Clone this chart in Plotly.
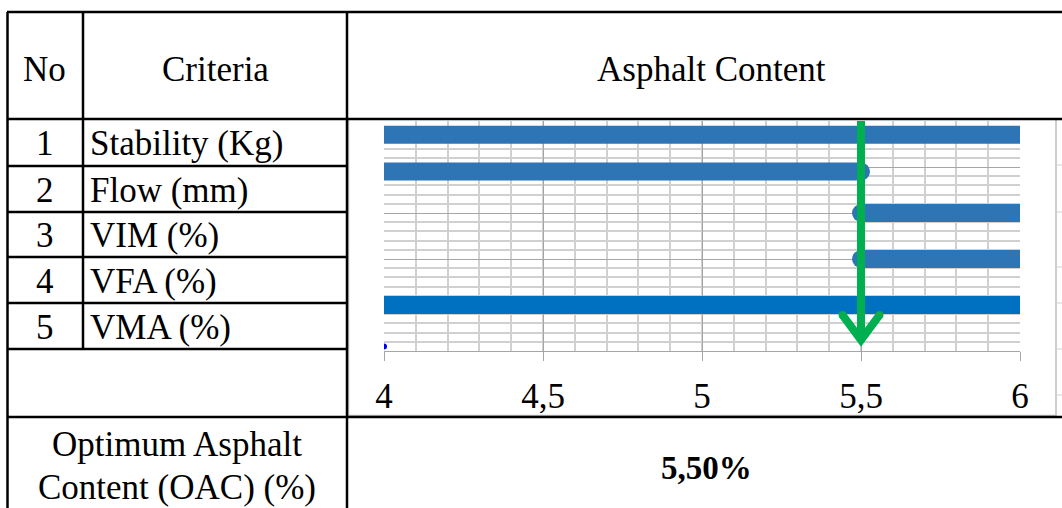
import plotly.graph_objects as go

# ---- data -------------------------------------------------------------
row_no = ["1", "2", "3", "4", "5"]
criteria = ["Stability (Kg)", "Flow (mm)", "VIM (%)", "VFA (%)", "VMA (%)"]
bar_level = [4.7, 3.9, 3.0, 2.0, 1.0]        # vertical position of each range bar
bar_start = [4.0, 4.0, 5.5, 5.5, 4.0]        # asphalt content where the range starts
bar_end = [6.0, 5.5, 6.0, 6.0, 6.0]          # asphalt content where the range ends
bar_color = ["#2E75B6", "#2E75B6", "#2E75B6", "#2E75B6", "#0070C0"]
oac_value = 5.50                              # optimum asphalt content (%)
x_ticks = [4, 4.5, 5, 5.5, 6]
x_range = [4, 6]
y_range = [0, 5]
stray_point_x = [4.0]
stray_point_y = [0.1]

# ---- page geometry (pixels) -----------------------------------------------
W, H = 1062, 508
PL, PR, PT, PB = 384, 1020, 121, 351


def px(X):
    return (X - PL) / (PR - PL)


def py(Y):
    return (PB - Y) / (PB - PT)


FONT = "Liberation Serif, Times New Roman, serif"
FS = 35

fig = go.Figure()

# range bars
for lvl, x0, x1, col in zip(bar_level, bar_start, bar_end, bar_color):
    fig.add_trace(go.Scatter(x=[x0, x1], y=[lvl, lvl], mode="lines",
                             line=dict(color=col, width=18),
                             hoverinfo="skip", showlegend=False))
    # rounded ends where a bar stops inside the axis range
    caps = [v for v in (x0, x1) if x_range[0] < v < x_range[1]]
    if caps:
        fig.add_trace(go.Scatter(x=caps, y=[lvl] * len(caps), mode="markers",
                                 marker=dict(color=col, size=18, line=dict(width=0)),
                                 hoverinfo="skip", showlegend=False))

# small point at the origin corner
fig.add_trace(go.Scatter(x=stray_point_x, y=stray_point_y, mode="markers",
                         marker=dict(color="#0000FF", size=6, line=dict(width=0)),
                         hoverinfo="skip", showlegend=False))

# green arrow marking the optimum asphalt content
GREEN = "#00B050"
tip_y = 0.24
arm_dx, arm_y = 0.058, 0.78
fig.add_trace(go.Scatter(x=[oac_value, oac_value], y=[y_range[1] + 0.1, tip_y],
                         mode="lines", line=dict(color=GREEN, width=8),
                         hoverinfo="skip", showlegend=False))
fig.add_trace(go.Scatter(x=[oac_value - arm_dx, oac_value, oac_value + arm_dx],
                         y=[arm_y, tip_y, arm_y], mode="lines",
                         line=dict(color=GREEN, width=8),
                         hoverinfo="skip", showlegend=False))
fig.add_trace(go.Scatter(x=[oac_value - arm_dx, oac_value + arm_dx],
                         y=[arm_y, arm_y], mode="markers",
                         marker=dict(color=GREEN, size=8, line=dict(width=0)),
                         hoverinfo="skip", showlegend=False))

# ---- table frame ------------------------------------------------------------
shapes = []


def hline(y, x0, x1, color="black", width=2.5):
    shapes.append(dict(type="line", xref="paper", yref="paper",
                       x0=px(x0), x1=px(x1), y0=py(y), y1=py(y),
                       line=dict(color=color, width=width)))


def vline(x, y0, y1, color="black", width=2.5):
    shapes.append(dict(type="line", xref="paper", yref="paper",
                       x0=px(x), x1=px(x), y0=py(y0), y1=py(y1),
                       line=dict(color=color, width=width)))


# chart frame inside the table cell
shapes.append(dict(type="rect", xref="paper", yref="paper",
                   x0=px(348.5), x1=px(1056), y0=py(119), y1=py(415.5),
                   line=dict(color="#BFBFBF", width=1.5)))
for yy in [165, 212, 267, 303, 349, 395]:
    hline(yy, 1057, 1062, color="#D0D0D0", width=1)

row_lines = [119, 166, 212, 257, 303, 349]
hline(12, 7, W)
hline(119, 7, W)
for yy in row_lines[1:]:
    hline(yy, 7, 347)
hline(417, 7, W)
vline(7.5, 12, H)
vline(83, 12, 349)
vline(347, 12, H)

annotations = []


def text(x, y, s, anchor="center", size=FS, bold=False):
    annotations.append(dict(xref="paper", yref="paper", x=px(x), y=py(y),
                            text=f"<b>{s}</b>" if bold else s, showarrow=False,
                            xanchor=anchor, yanchor="middle",
                            font=dict(family=FONT, size=size, color="black")))


text(45, 69, "No")
text(215, 69, "Criteria")
text(711, 69, "Asphalt Content")
for i, (n, c) in enumerate(zip(row_no, criteria)):
    yc = (row_lines[i] + row_lines[i + 1]) / 2 + 1
    text(45, yc, n)
    text(88, yc, c, anchor="left")
text(177, 444, "Optimum Asphalt")
text(177, 487, "Content (OAC) (%)")
text(706, 468, f"{oac_value:.2f}".replace(".", ",") + "%", size=33, bold=True)

fig.update_layout(
    width=W, height=H,
    margin=dict(l=PL, r=W - PR, t=PT, b=H - PB, pad=0),
    paper_bgcolor="white", plot_bgcolor="white",
    separators=",.",
    shapes=shapes, annotations=annotations,
    xaxis=dict(range=x_range, tickmode="array", tickvals=x_ticks,
               showgrid=True, gridcolor="#A6A6A6", gridwidth=1.2,
               minor=dict(dtick=0.1, showgrid=True, gridcolor="#D0D0D0", gridwidth=1.6),
               zeroline=False, showline=True, linecolor="#A6A6A6", linewidth=1.2,
               ticks="outside", ticklen=9, tickcolor="#A6A6A6", tickwidth=1.2,
               tickfont=dict(family=FONT, size=FS, color="black"),
               ticklabelstandoff=5, fixedrange=True),
    yaxis=dict(range=y_range, dtick=1, showticklabels=False,
               showgrid=True, gridcolor="#A6A6A6", gridwidth=1.2,
               minor=dict(dtick=0.2, showgrid=True, gridcolor="#D0D0D0", gridwidth=1.6),
               zeroline=False, showline=False, fixedrange=True),
)

fig.write_html("out.html")
